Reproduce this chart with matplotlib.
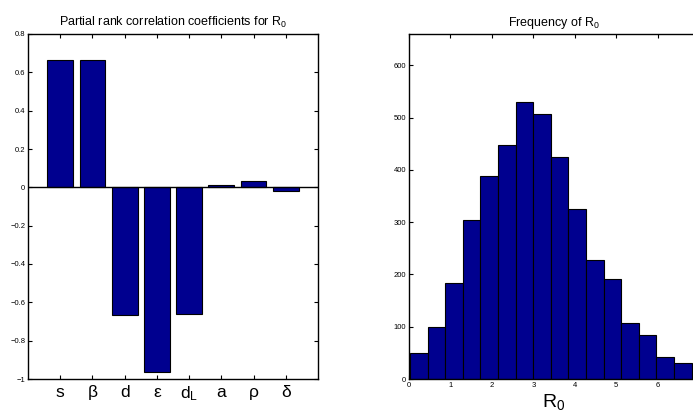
import matplotlib
matplotlib.use("Agg")
import matplotlib.pyplot as plt

plt.rcParams['font.family'] = ['Liberation Sans', 'DejaVu Sans']
plt.rcParams['mathtext.fontset'] = 'custom'
plt.rcParams['mathtext.rm'] = 'Liberation Sans'
plt.rcParams['mathtext.it'] = 'Liberation Sans:italic'

# Left panel: partial rank correlation coefficients
params = ['s', 'β', 'd', 'ε', r'$\mathregular{d_L}$', 'a', 'ρ', 'δ']
prcc = [0.664, 0.662, -0.666, -0.965, -0.661, 0.012, 0.035, -0.021]

# Right panel: histogram of R0 (bin centres and counts)
bin_centers = [-0.19, 0.236, 0.661, 1.086, 1.51, 1.935, 2.36, 2.785, 3.21,
               3.635, 4.06, 4.484, 4.909, 5.334, 5.759, 6.184, 6.609, 7.034]
counts = [20, 50, 99, 184, 304, 389, 448, 529, 507, 424,
          326, 227, 192, 108, 84, 43, 31, 15]
bin_width = 0.4248

BAR = '#00008F'

fig = plt.figure(figsize=(6.93, 4.19), dpi=100)

W, H = 693, 419
def pos(l, t, r, b):
    return [l / W, 1 - b / H, (r - l) / W, (b - t) / H]

ax1 = fig.add_axes(pos(28, 34, 318, 379))
xs = list(range(1, len(params) + 1))
ax1.bar(xs, prcc, width=0.8, color=BAR, edgecolor='black', linewidth=0.8, zorder=2)
ax1.axhline(0, color='black', linewidth=1.0, zorder=3)
ax1.set_xlim(0, 9)
ax1.set_ylim(-1, 0.8)
ax1.set_yticks([-1, -0.8, -0.6, -0.4, -0.2, 0, 0.2, 0.4, 0.6, 0.8])
ax1.set_yticklabels(['\u22121', '\u22120.8', '\u22120.6', '\u22120.4', '\u22120.2',
                     '0', '0.2', '0.4', '0.6', '0.8'])
ax1.set_xticks(xs)
ax1.set_xticklabels(params, fontsize=12.5)
ax1.tick_params(axis='y', labelsize=5.5, direction='in', length=3, width=0.8,
                right=True, pad=2)
ax1.tick_params(axis='x', direction='in', length=3, width=0.8, top=True, pad=4)
ax1.set_title(r'Partial rank correlation coefficients for $\mathregular{R_0}$',
              fontsize=9, pad=6)

ax2 = fig.add_axes(pos(409, 34, 699, 379))
ax2.bar(bin_centers, counts, width=bin_width, color=BAR, edgecolor='black',
        linewidth=0.8, zorder=2)
ax2.set_xlim(0, 7)
ax2.set_ylim(0, 660)
ax2.set_xticks([0, 1, 2, 3, 4, 5, 6])
ax2.set_yticks([0, 100, 200, 300, 400, 500, 600])
ax2.tick_params(axis='both', labelsize=5.5, direction='in', length=3, width=0.8,
                top=True, right=True, pad=2)
ax2.set_xlabel(r'$\mathregular{R_0}$', fontsize=14, labelpad=2)
ax2.set_title(r'Frequency of $\mathregular{R_0}$', fontsize=9, pad=6)

for ax in (ax1, ax2):
    for s in ax.spines.values():
        s.set_linewidth(1.0)

fig.savefig('out.png', dpi=100)
